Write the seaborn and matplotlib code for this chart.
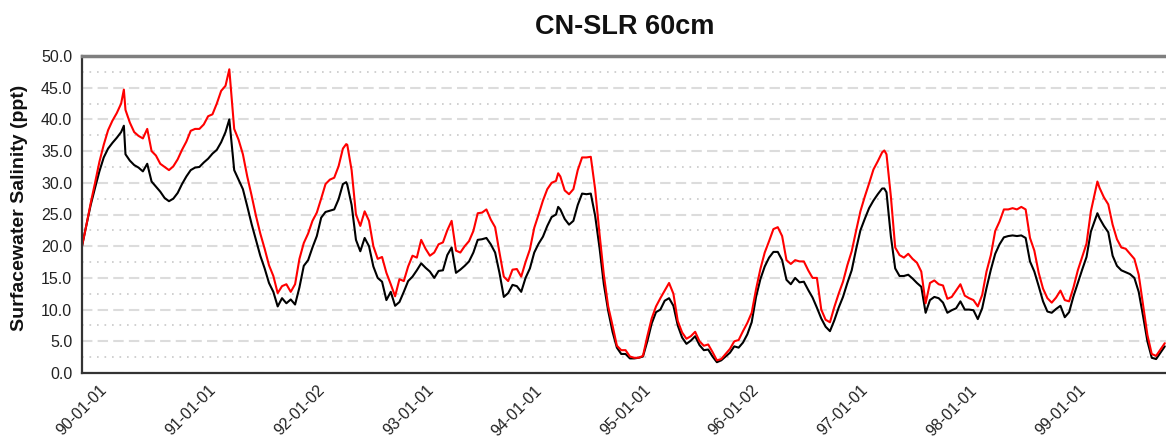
import numpy as np
import pandas as pd
import seaborn as sns
import matplotlib
matplotlib.use("Agg")
import matplotlib.pyplot as plt
import matplotlib.dates as mdates
from matplotlib.ticker import MultipleLocator, FormatStrFormatter

# time of each reading, in years after 1990-01-01
years_after_1990 = [
    0.00, 0.04, 0.08, 0.12, 0.16, 0.20, 0.24, 0.28, 0.32, 0.36, 0.385, 0.40, 0.44, 0.48, 0.52,
    0.56, 0.60, 0.64, 0.68, 0.72, 0.76, 0.80, 0.84, 0.88, 0.92, 0.96, 1.00, 1.04, 1.08, 1.12,
    1.16, 1.20, 1.24, 1.28, 1.32, 1.355, 1.40, 1.44, 1.48, 1.52, 1.56, 1.60, 1.64, 1.68,
    1.72, 1.76, 1.80, 1.84, 1.88, 1.92, 1.96, 2.00, 2.04, 2.08, 2.12, 2.16, 2.20, 2.24, 2.28,
    2.32, 2.36, 2.40, 2.43, 2.44, 2.48, 2.52, 2.56, 2.60, 2.64, 2.68, 2.72, 2.76, 2.80, 2.84,
    2.88, 2.92, 2.96, 3.00, 3.04, 3.08, 3.12, 3.16, 3.20, 3.24, 3.28, 3.32,
    3.36, 3.40, 3.44, 3.48, 3.52, 3.56, 3.60, 3.64, 3.68, 3.72, 3.76, 3.80, 3.84, 3.88, 3.92,
    3.96, 4.00, 4.04, 4.08, 4.12, 4.16, 4.20, 4.24, 4.28, 4.32, 4.36, 4.38, 4.40, 4.44, 4.48,
    4.52, 4.56, 4.60, 4.64, 4.68, 4.72, 4.76, 4.80, 4.84, 4.88, 4.92, 4.96,
    5.00, 5.04, 5.08, 5.12, 5.16, 5.20, 5.24, 5.28, 5.32, 5.36, 5.40, 5.44, 5.48, 5.52, 5.56,
    5.60, 5.64, 5.68, 5.72, 5.76, 5.80, 5.84, 5.88, 5.92, 5.96, 6.00, 6.04, 6.08, 6.12, 6.16,
    6.20, 6.24, 6.28, 6.32, 6.36, 6.40, 6.44, 6.48, 6.52, 6.56, 6.60,
    6.64, 6.68, 6.72, 6.76, 6.80, 6.84, 6.88, 6.92, 6.96, 7.00, 7.04, 7.08, 7.12, 7.16, 7.20,
    7.24, 7.28, 7.32, 7.36, 7.38, 7.40, 7.44, 7.48, 7.52, 7.56, 7.60, 7.64, 7.68, 7.72, 7.76,
    7.80, 7.84, 7.88, 7.92, 7.96, 8.00, 8.04, 8.08, 8.12, 8.16, 8.20, 8.24,
    8.28, 8.32, 8.36, 8.40, 8.44, 8.48, 8.52, 8.56, 8.60, 8.64, 8.68, 8.72, 8.76, 8.80, 8.84,
    8.88, 8.92, 8.96, 9.00, 9.04, 9.08, 9.12, 9.16, 9.20, 9.24, 9.28, 9.32, 9.34, 9.36, 9.40,
    9.44, 9.48, 9.52, 9.56, 9.60, 9.64, 9.68, 9.72, 9.76, 9.80, 9.84, 9.88, 9.92, 9.96,
]

# red curve (upper)
salinity_red = [
    20.0, 23.3, 26.8, 30.0, 33.3, 36.0, 38.3, 39.8, 41.0, 42.5, 44.7, 41.5, 39.5, 38.0, 37.4,
    37.0, 38.5, 35.0, 34.3, 33.0, 32.5, 32.0, 32.6, 33.7, 35.2, 36.5, 38.2, 38.5, 38.5, 39.2,
    40.5, 40.8, 42.5, 44.5, 45.3, 47.9, 38.5, 36.8, 34.5, 31.0, 28.0, 24.8, 22.0, 19.6,
    17.0, 15.3, 12.6, 13.7, 14.0, 12.8, 14.0, 18.0, 20.5, 22.0, 24.0, 25.3, 27.5, 29.8, 30.5,
    30.8, 32.6, 35.4, 36.1, 36.0, 32.0, 25.0, 23.2, 25.5, 24.0, 20.0, 18.0, 18.3, 15.8, 14.0,
    12.1, 14.8, 14.5, 16.8, 18.5, 18.2, 21.0, 19.6, 18.5, 19.0, 20.3, 20.6,
    22.5, 24.0, 19.3, 19.0, 20.0, 20.8, 22.4, 25.2, 25.3, 25.8, 24.2, 23.0, 19.0, 15.2, 14.5,
    16.3, 16.4, 15.2, 17.5, 19.5, 22.9, 25.0, 27.2, 29.0, 30.0, 30.3, 31.5, 31.0, 28.8, 28.2,
    29.0, 32.0, 34.0, 34.0, 34.1, 29.0, 22.0, 15.5, 10.5, 7.5, 4.3, 3.6,
    3.6, 2.6, 2.4, 2.4, 2.7, 5.8, 8.6, 10.5, 11.8, 13.0, 14.2, 12.5, 8.2, 6.4, 5.4,
    5.8, 6.5, 5.0, 4.3, 4.5, 3.3, 2.0, 2.2, 3.0, 3.8, 5.0, 5.2, 6.6, 7.9, 9.5,
    13.2, 16.4, 19.0, 20.8, 22.7, 23.0, 21.6, 17.8, 17.2, 17.8, 17.6,
    17.6, 16.2, 15.0, 15.0, 10.0, 8.4, 8.0, 10.4, 12.5, 14.4, 17.0, 19.2, 22.4, 25.5, 27.8,
    29.9, 32.1, 33.4, 34.8, 35.1, 34.5, 27.9, 19.8, 18.6, 18.2, 18.8, 18.0, 17.4, 16.0, 11.0,
    14.2, 14.6, 14.0, 13.8, 11.7, 12.0, 13.0, 14.0, 12.2, 11.8, 11.5, 10.5,
    12.3, 16.0, 18.6, 22.4, 23.9, 25.8, 25.8, 26.0, 25.8, 26.2, 25.8, 21.3, 19.3, 15.8, 13.3,
    11.8, 11.1, 11.9, 13.0, 11.5, 11.3, 13.5, 16.2, 18.3, 20.4, 25.5, 28.6, 30.2, 29.2, 27.7,
    26.6, 23.4, 21.1, 19.8, 19.6, 18.8, 18.0, 15.5, 10.8, 6.0, 3.0, 2.7, 3.7, 4.7,
]

# black curve (lower)
salinity_black = [
    20.0, 23.3, 26.5, 29.2, 31.8, 34.0, 35.4, 36.3, 37.1, 38.0, 39.0, 34.5, 33.5, 32.8, 32.4,
    31.8, 33.0, 30.2, 29.4, 28.6, 27.6, 27.1, 27.5, 28.4, 29.8, 31.0, 32.0, 32.4, 32.5, 33.2,
    33.8, 34.6, 35.2, 36.4, 38.0, 40.0, 32.0, 30.5, 29.0, 26.3, 23.5, 21.0, 18.5, 16.5,
    14.2, 12.8, 10.5, 11.8, 11.0, 11.6, 10.8, 13.5, 16.9, 17.8, 19.8, 21.6, 24.5, 25.4, 25.6,
    25.8, 27.4, 29.8, 30.1, 29.7, 26.5, 21.0, 19.2, 21.3, 20.0, 16.8, 15.0, 14.4, 11.5, 12.8,
    10.6, 11.2, 12.8, 14.5, 15.2, 16.2, 17.3, 16.6, 16.0, 15.0, 16.1, 16.2,
    18.6, 19.8, 15.8, 16.3, 16.9, 17.6, 19.0, 21.0, 21.1, 21.3, 20.3, 19.0, 15.8, 12.0, 12.6,
    13.9, 13.7, 12.8, 15.0, 16.5, 19.0, 20.4, 21.5, 23.2, 24.6, 25.0, 26.2, 25.8, 24.3, 23.4,
    24.0, 26.5, 28.3, 28.2, 28.3, 24.8, 19.8, 14.0, 9.8, 6.5, 4.0, 3.0,
    3.0, 2.3, 2.3, 2.4, 2.6, 5.0, 7.8, 9.6, 10.0, 11.4, 11.8, 10.6, 7.5, 5.6, 4.6,
    5.1, 5.8, 4.4, 3.6, 3.7, 2.6, 1.7, 2.0, 2.6, 3.2, 4.2, 4.0, 4.8, 6.1, 8.0,
    12.0, 14.8, 16.8, 18.2, 19.1, 19.1, 17.8, 14.7, 14.0, 15.0, 14.3,
    14.4, 13.1, 11.9, 10.3, 8.6, 7.3, 6.6, 8.3, 10.3, 12.0, 14.2, 16.2, 19.5, 22.5, 24.3,
    26.0, 27.2, 28.2, 29.1, 29.1, 28.5, 21.6, 16.5, 15.3, 15.3, 15.5, 14.9, 14.2, 13.6, 9.5,
    11.5, 12.0, 11.8, 11.1, 9.5, 9.9, 10.2, 11.3, 10.0, 10.0, 9.9, 8.5,
    10.2, 13.4, 16.3, 18.8, 20.3, 21.4, 21.6, 21.7, 21.6, 21.7, 21.3, 17.6, 16.0, 13.7, 11.3,
    9.7, 9.5, 10.1, 10.6, 8.8, 9.6, 12.1, 14.2, 16.3, 18.3, 22.3, 24.2, 25.2, 24.4, 23.2,
    22.2, 18.5, 16.9, 16.2, 15.9, 15.6, 15.0, 12.8, 9.0, 5.0, 2.4, 2.2, 3.2, 4.2,
]

tick_dates = ["1990-01-01", "1991-01-01", "1992-01-01", "1993-01-01", "1994-01-01",
              "1995-01-01", "1996-01-01", "1997-01-01", "1998-01-01", "1999-01-01"]
x_labels = ["90-01-01", "91-01-01", "92-01-02", "93-01-01", "94-01-01",
            "95-01-01", "96-01-02", "97-01-01", "98-01-01", "99-01-01"]

start = pd.Timestamp("1990-01-01")
dates = start + pd.to_timedelta(np.array(years_after_1990) * 365.25, unit="D")
df = pd.DataFrame({"date": dates, "red": salinity_red, "black": salinity_black})
long = df.melt(id_vars="date", var_name="series", value_name="salinity")

sns.set_style("white")
plt.rcParams["font.family"] = ["Liberation Sans", "DejaVu Sans"]

fig = plt.figure(figsize=(11.66, 4.42), dpi=100)
ax = fig.add_axes([82 / 1166, 69 / 442, 1087 / 1166, 317 / 442])

sns.lineplot(data=long, x="date", y="salinity", hue="series", hue_order=["black", "red"],
             palette={"black": "black", "red": "#ff0000"}, linewidth=1.5,
             estimator=None, legend=False, ax=ax)

ax.set_xlim(start, pd.Timestamp("2000-01-01"))
ax.set_ylim(0, 50)

# y axis: labels every 5, dashed grid every 5, dotted grid in between
ax.yaxis.set_major_locator(MultipleLocator(5))
ax.yaxis.set_minor_locator(MultipleLocator(2.5))
ax.yaxis.set_major_formatter(FormatStrFormatter("%.1f"))
ax.grid(False)
ax.yaxis.grid(True, which="major", linestyle=(0, (5, 2.5)), color="#dcdcdc", linewidth=1.5)
ax.yaxis.grid(True, which="minor", linestyle=(0, (1, 3.5)), color="#c8c8c8", linewidth=1.2)
ax.set_axisbelow(True)
ax.tick_params(axis="y", which="both", length=0, pad=7, labelsize=11.5, colors="#222222")

# x axis: yearly major ticks, quarterly minor ticks, pointing inward
ax.set_xticks(pd.to_datetime(tick_dates))
ax.set_xticklabels(x_labels, rotation=45, ha="center")
ax.xaxis.set_minor_locator(mdates.MonthLocator(bymonth=[1, 4, 7, 10]))
ax.tick_params(axis="x", which="major", direction="in", length=14.4, width=1.3,
               color="#222222", pad=7, labelsize=11.5, labelcolor="#222222")
ax.tick_params(axis="x", which="minor", direction="in", length=7.2, width=1.3, color="#222222")

ax.set_xlabel("")
ax.set_ylabel("")
for side in ["left", "bottom"]:
    ax.spines[side].set_color("#333333")
    ax.spines[side].set_linewidth(1.6)
ax.spines["top"].set_color("#7f7f7f")
ax.spines["top"].set_linewidth(2.5)
ax.spines["right"].set_visible(False)

fig.text(20 / 1166, 1 - 208 / 442, "Surfacewater Salinity (ppt)", rotation=90,
         ha="center", va="center", fontsize=14, fontweight="bold", color="#111111")
fig.text(625 / 1166, 1 - 27 / 442, "CN-SLR 60cm", ha="center", va="center",
         fontsize=19.5, fontweight="bold", color="#111111")

fig.savefig("out.png", dpi=100)
